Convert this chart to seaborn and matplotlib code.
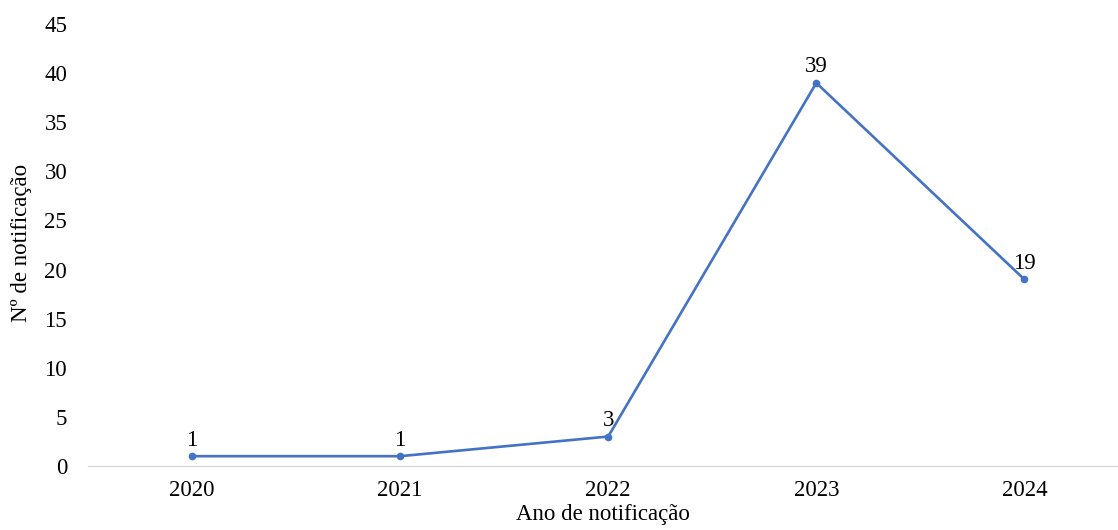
import matplotlib
matplotlib.use("Agg")
import matplotlib.pyplot as plt
import seaborn as sns
import pandas as pd

anos = ["2020", "2021", "2022", "2023", "2024"]
notificacoes = [1, 1, 3, 39, 19]
yticks = [0, 5, 10, 15, 20, 25, 30, 35, 40, 45]

df = pd.DataFrame({"ano": anos, "n": notificacoes})

sns.set_style("white")
plt.rcParams["font.family"] = ["Liberation Serif", "DejaVu Serif"]

W, H = 1118, 530
fig = plt.figure(figsize=(W / 100, H / 100), dpi=100)
ax = fig.add_axes([88 / W, 64 / H, 1030 / W, 442 / H])

color = "#4472C4"
fs = 16.5
sns.lineplot(data=df, x="ano", y="n", ax=ax, color=color, linewidth=1.9,
             marker="o", markersize=5.5, markeredgewidth=0, sort=False)

for i, v in enumerate(notificacoes):
    ax.annotate(str(v), (i, v), xytext=(0, 4), textcoords="offset points",
                ha="center", va="bottom", fontsize=fs, color="#000000")

ax.set_xlim(-0.5, 4.45)
ax.set_ylim(0, 45)
ax.set_yticks(yticks)
ax.tick_params(axis="both", length=0, labelsize=fs, colors="#000000")
ax.tick_params(axis="x", pad=10)
ax.tick_params(axis="y", pad=15)
for s in ["top", "right", "left"]:
    ax.spines[s].set_visible(False)
ax.spines["bottom"].set_color("#D9D9D9")
ax.spines["bottom"].set_linewidth(1.0)
ax.grid(False)

ax.set_xlabel("Ano de notificação", fontsize=fs, color="#000000", labelpad=2)
ax.set_ylabel("Nº de notificação", fontsize=fs, color="#000000")
ax.yaxis.set_label_coords(-56 / 1030, 0.505)

fig.savefig("out.png", dpi=100)
